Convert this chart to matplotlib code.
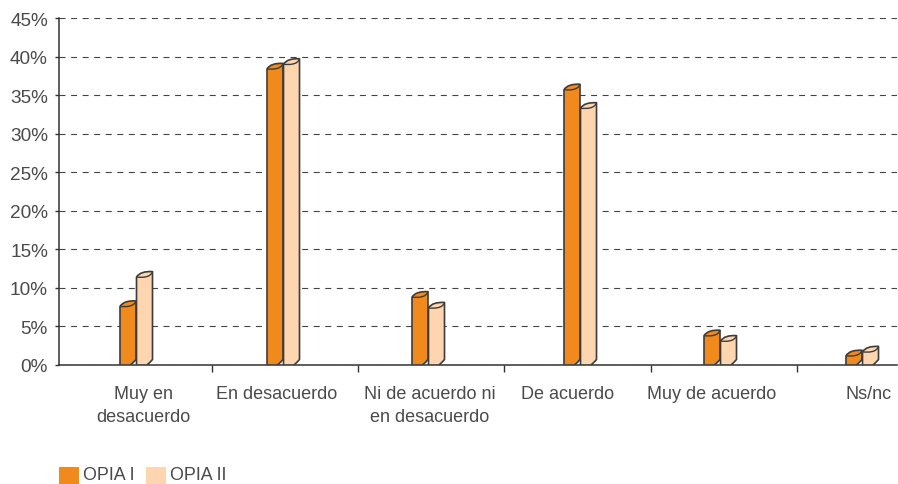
import matplotlib
matplotlib.use("Agg")
import matplotlib.pyplot as plt
from matplotlib.patches import PathPatch, Rectangle
from matplotlib.path import Path

# valores
categorias = ["Muy en\ndesacuerdo", "En desacuerdo", "Ni de acuerdo ni\nen desacuerdo",
              "De acuerdo", "Muy de acuerdo", "Ns/nc"]
opia1 = [7.6, 38.4, 8.8, 35.7, 3.8, 1.2]
opia2 = [11.4, 39.0, 7.4, 33.3, 3.1, 1.7]
ticks_y = [0, 5, 10, 15, 20, 25, 30, 35, 40, 45]

# posiciones en pixeles de la imagen
pos_barras = [120, 267, 412, 564, 704, 846]
pos_textos = [143, 277, 430, 568, 712, 869]
pos_ticks = [59, 212, 358, 504, 651, 797]

NARANJA = "#F08A1D"
CREMA = "#FDD5AE"
BORDE = "#3C3C3C"
TEXTO = "#4A4A4A"

plt.rcParams["font.family"] = ["Liberation Sans", "DejaVu Sans"]

W, H = 898, 485
fig = plt.figure(figsize=(W / 100, H / 100), dpi=100)
ax = fig.add_axes([59 / W, 1 - 366 / H, (897 - 59) / W, (366 - 19) / H])
ax.set_xlim(59, 897)
ax.set_ylim(0, 45)
ax.patch.set_alpha(0)

px = 45 / (366 - 19)  # un pixel en unidades del eje y


def barra(x, v, color):
    w = 11
    d = 5
    alto = 5.5 * px
    y = max(v, 0)
    # silueta
    verts = [(x, 0), (x, y),
             (x + 3, y + alto * 0.8), (x + 8, y + alto * 1.05), (x + w + d, y + alto),
             (x + w + d, alto),
             (x + w + d - 2, alto * 0.6), (x + w, 0), (x + w - 1, 0),
             (x, 0)]
    codes = [Path.MOVETO, Path.LINETO,
             Path.CURVE4, Path.CURVE4, Path.CURVE4,
             Path.LINETO,
             Path.CURVE4, Path.CURVE4, Path.CURVE4,
             Path.CLOSEPOLY]
    ax.add_patch(PathPatch(Path(verts, codes), facecolor=color, edgecolor=BORDE,
                           lw=1.2, zorder=3, joinstyle="round"))
    # borde curvo de la cara superior
    verts2 = [(x, y), (x + 6, y - alto * 0.1), (x + w + 3, y - alto * 0.1), (x + w + d, y + alto)]
    codes2 = [Path.MOVETO, Path.CURVE4, Path.CURVE4, Path.CURVE4]
    ax.add_patch(PathPatch(Path(verts2, codes2), facecolor="none", edgecolor=BORDE,
                           lw=1.0, zorder=4))


for i in range(len(categorias)):
    barra(pos_barras[i], opia1[i], NARANJA)
    barra(pos_barras[i] + 16.5, opia2[i], CREMA)

ax.set_yticks(ticks_y)
ax.set_yticklabels([str(t) + "%" for t in ticks_y], fontsize=13.7, color=TEXTO)
ax.yaxis.grid(True, color="#444444", lw=0.8, dashes=(5.4, 5))
ax.set_axisbelow(True)
ax.tick_params(axis="y", length=3, width=1, color="#333333", pad=5)

ax.set_xticks(pos_ticks[1:])
ax.set_xticklabels([])
ax.tick_params(axis="x", length=5, width=1, color="#333333")

for s in ["top", "right"]:
    ax.spines[s].set_visible(False)
for s in ["left", "bottom"]:
    ax.spines[s].set_color("#333333")
    ax.spines[s].set_linewidth(1.1)

for x, c in zip(pos_textos, categorias):
    fig.text(x / W, 1 - 386 / H, c, ha="center", va="top", fontsize=13, color=TEXTO,
             linespacing=1.43)

# leyenda
fig.add_artist(Rectangle((59 / W, 0), 20 / W, 17 / H, transform=fig.transFigure,
                         facecolor=NARANJA, edgecolor="none"))
fig.add_artist(Rectangle((146 / W, 0), 20 / W, 17 / H, transform=fig.transFigure,
                         facecolor=CREMA, edgecolor="none"))
fig.text(83 / W, 1 / H, "OPIA I", fontsize=12.9, color=TEXTO, va="bottom")
fig.text(170 / W, 1 / H, "OPIA II", fontsize=12.9, color=TEXTO, va="bottom")

fig.savefig("out.png", dpi=100)
